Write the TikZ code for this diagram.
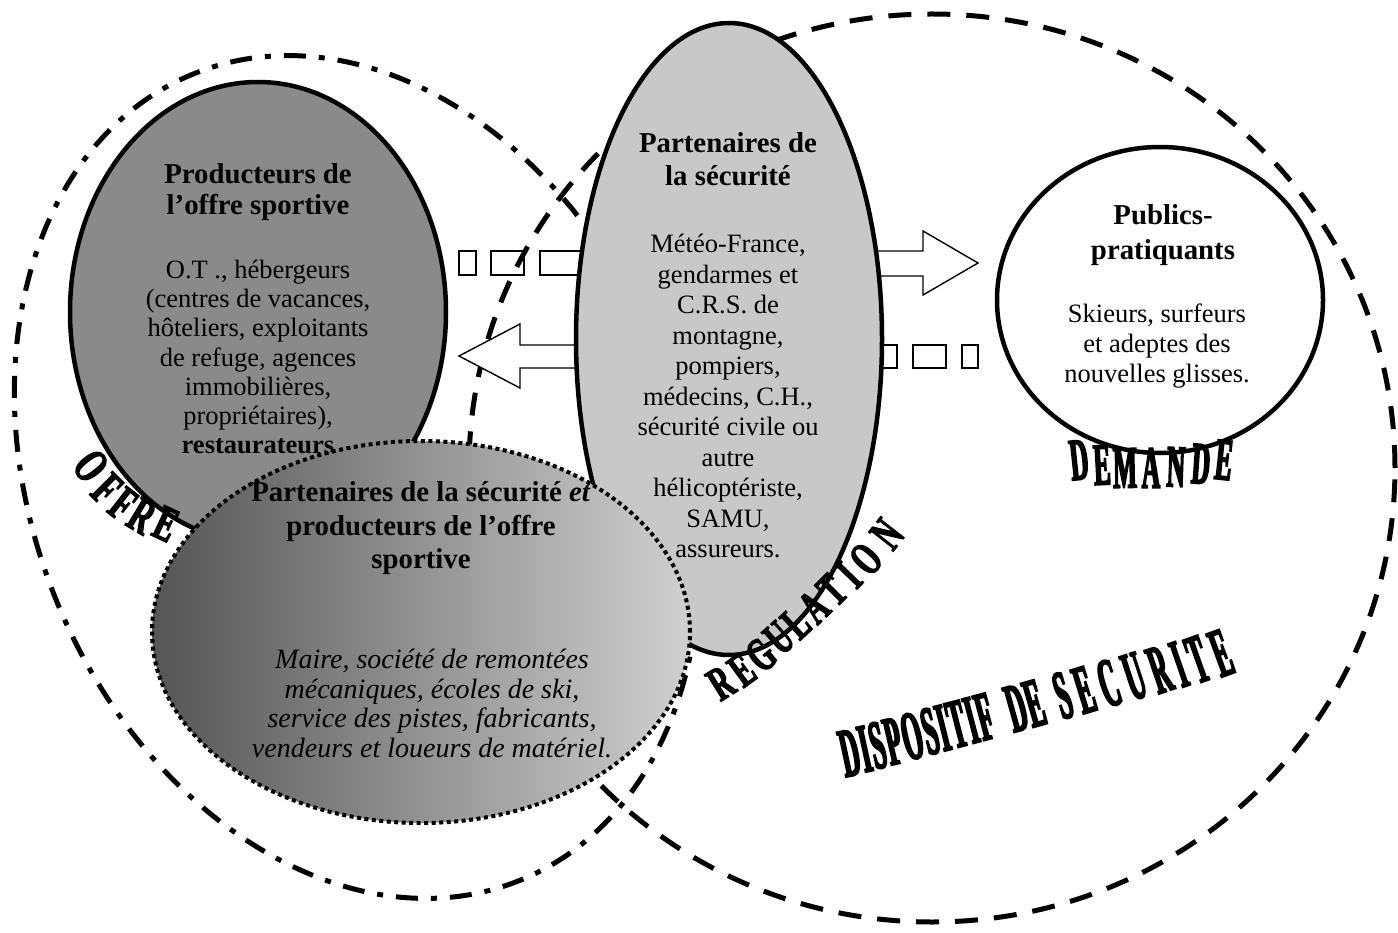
\documentclass[tikz,border=0pt]{standalone}
\usepackage{fontspec}
\setmainfont{Liberation Serif}
\newfontfamily\lblfont[FakeStretch=0.42,FakeBold=2.5]{Liberation Serif}
\newfontfamily\lblfontW[FakeStretch=0.6,FakeBold=2.5]{Liberation Serif}
\newfontfamily\lblfontN[FakeStretch=0.36,FakeBold=2.5]{Liberation Serif}
\usetikzlibrary{shapes.geometric}
\definecolor{darkfill}{RGB}{138,138,138}
\definecolor{lightfill}{RGB}{200,200,200}
\definecolor{gradL}{RGB}{85,85,85}
\definecolor{gradR}{RGB}{208,208,208}
\begin{document}
\begin{tikzpicture}[x=1pt,y=-1pt,
  blob/.style={ellipse, draw=black, line width=4.5pt, inner sep=0pt},
  ring/.style={ellipse, draw=black, line width=5pt, inner sep=0pt},
  smallbox/.style={draw=black, line width=1.4pt},
  blockarrow/.style={draw=black, line width=1.4pt, fill=white, line join=miter},
  ttl/.style={align=center, inner sep=0pt, font=\fontsize{28.8}{32}\selectfont\bfseries},
  body/.style={align=center, inner sep=0pt, font=\fontsize{26.5}{30.5}\selectfont},
  lbl/.style={inner sep=0pt, font=\lblfont\bfseries\fontsize{#1}{#1}\selectfont},
  lblW/.style={inner sep=0pt, font=\lblfontW\bfseries\fontsize{#1}{#1}\selectfont},
  lblN/.style={inner sep=0pt, font=\lblfontN\bfseries\fontsize{#1}{#1}\selectfont}
]
\useasboundingbox (0,0) rectangle (1398,933);
\fill[white] (0,0) rectangle (1398,933);

% small dashed-arrow boxes
\foreach \x/\w [count=\i] in {459/17,491/33,540/50}
  \draw[smallbox] (\x,251) rectangle ++(\w,24);
\foreach \x/\w [count=\i] in {868/29,913/33,962/16}
  \draw[smallbox] (\x,345) rectangle ++(\w,23);

% big outline ellipses
\node[ring, dash pattern=on 22pt off 13pt on 6pt off 13pt,
      minimum width=650, minimum height=870, rotate=22] (offre) at (357,477) {};
\node[ring, dash pattern=on 23pt off 16pt,
      minimum width=926, minimum height=908] (dispositif) at (932,468) {};

% block arrows
\coordinate (ltip) at (459,356);
\coordinate (rtip) at (978,263);
\draw[blockarrow] (600,345) -- (520,345) -- (520,324) -- (ltip) -- (520,388) -- (520,368) -- (600,368) -- cycle;
\draw[blockarrow] (860,251) -- (923,251) -- (923,231) -- (rtip) -- (923,295) -- (923,276) -- (860,276) -- cycle;

% Producteurs
\node[blob, fill=darkfill, minimum width=376, minimum height=460] (prod) at (258,312) {};
\node[ttl, font=\fontsize{28.8}{31}\selectfont\bfseries] (prodT) at (258,192.5) {Producteurs de\\l’offre sportive};
\node[body, font=\fontsize{26.5}{29.3}\selectfont] (prodB) at (258,357) {O.T ., hébergeurs\\(centres de vacances,\\hôteliers, exploitants\\de refuge, agences\\immobilières,\\propriétaires),\\\textbf{restaurateurs}};

% Partenaires de la securite
\node[blob, fill=lightfill, minimum width=306, minimum height=632] (secu) at (729,339) {};
\node[ttl, font=\fontsize{28.8}{33}\selectfont\bfseries] (secuT) at (728,159.5) {Partenaires de\\la sécurité};
\node[body] (secuB) at (728,396) {Météo-France,\\gendarmes et\\C.R.S. de\\montagne,\\pompiers,\\médecins, C.H.,\\sécurité civile ou\\autre\\hélicoptériste,\\SAMU,\\assureurs.};

% Publics
\node[blob, fill=white, minimum width=326, minimum height=306] (publics) at (1160,300) {};
\node[ttl, font=\fontsize{28.8}{35}\selectfont\bfseries] (pubT) at (1163,235.5) {Publics-\\pratiquants};
\node[body, font=\fontsize{26.5}{30}\selectfont] (pubB) at (1157,346) {Skieurs, surfeurs\\et adeptes des\\nouvelles glisses.};

% Partenaires et producteurs
\node[ellipse, draw=black, line width=4pt, dash pattern=on 4pt off 3.5pt, inner sep=0pt,
      left color=gradL, right color=gradR, minimum width=538, minimum height=382] (both) at (421,632) {};
\node[ttl, font=\fontsize{28.8}{33.5}\selectfont\bfseries] (bothT) at (421,528.5) {Partenaires de la sécurité \textit{et}\\producteurs de l’offre\\sportive};
\node[body, font=\fontsize{28}{29.5}\selectfont\itshape] (bothB) at (432,703.5) {Maire, société de remontées\\mécaniques, écoles de ski,\\service des pistes, fabricants,\\vendeurs et loueurs de matériel.};

% curved labels
\foreach \c/\x/\y/\r [count=\i] in {O/91/466/-52, F/107/489/-45, F/123/504/-38, R/142/516/-31, E/166/524/-25}
  \node[lblW=50, rotate=\r] (lo\i) at (\x,\y) {\c};
\foreach \c/\x/\y/\r [count=\i] in {R/721/683/32, E/742/670/36, G/761/655/40, U/779/638/42, L/796/623/43, A/814/607/44, T/832/590/45, I/849/575/46, O/866/559/48, N/887/534/52}
  \node[lblW=48, rotate=\r] (lr\i) at (\x,\y) {\c};
\foreach \c/\x/\y/\r [count=\i] in {D/1079/460/6, E/1102/465/3, M/1125/468/1, A/1151/468/0, N/1176/467/-2, D/1201/464/-4, E/1224/460/-6}
  \node[lbl=60, rotate=\r] (ld\i) at (\x,\y) {\c};
\foreach \c/\x [count=\i] in {D/849.7, I/864.7, S/877.5, P/893.3, O/912, S/930, I/942.8, T/957, I/971.3, F/984.8, D/1016.4, E/1034.4, S/1062.8, E/1084.3, C/1108.8, U/1134.2, R/1159.6, I/1179.1, T/1197.7, E/1221.2}
  \node[lblN=70, rotate={12+8*(\x-849.7)/371.5}] (ls\i) at (\x,{753-0.269*(\x-849.7)}) {\c};
\end{tikzpicture}
\end{document}
